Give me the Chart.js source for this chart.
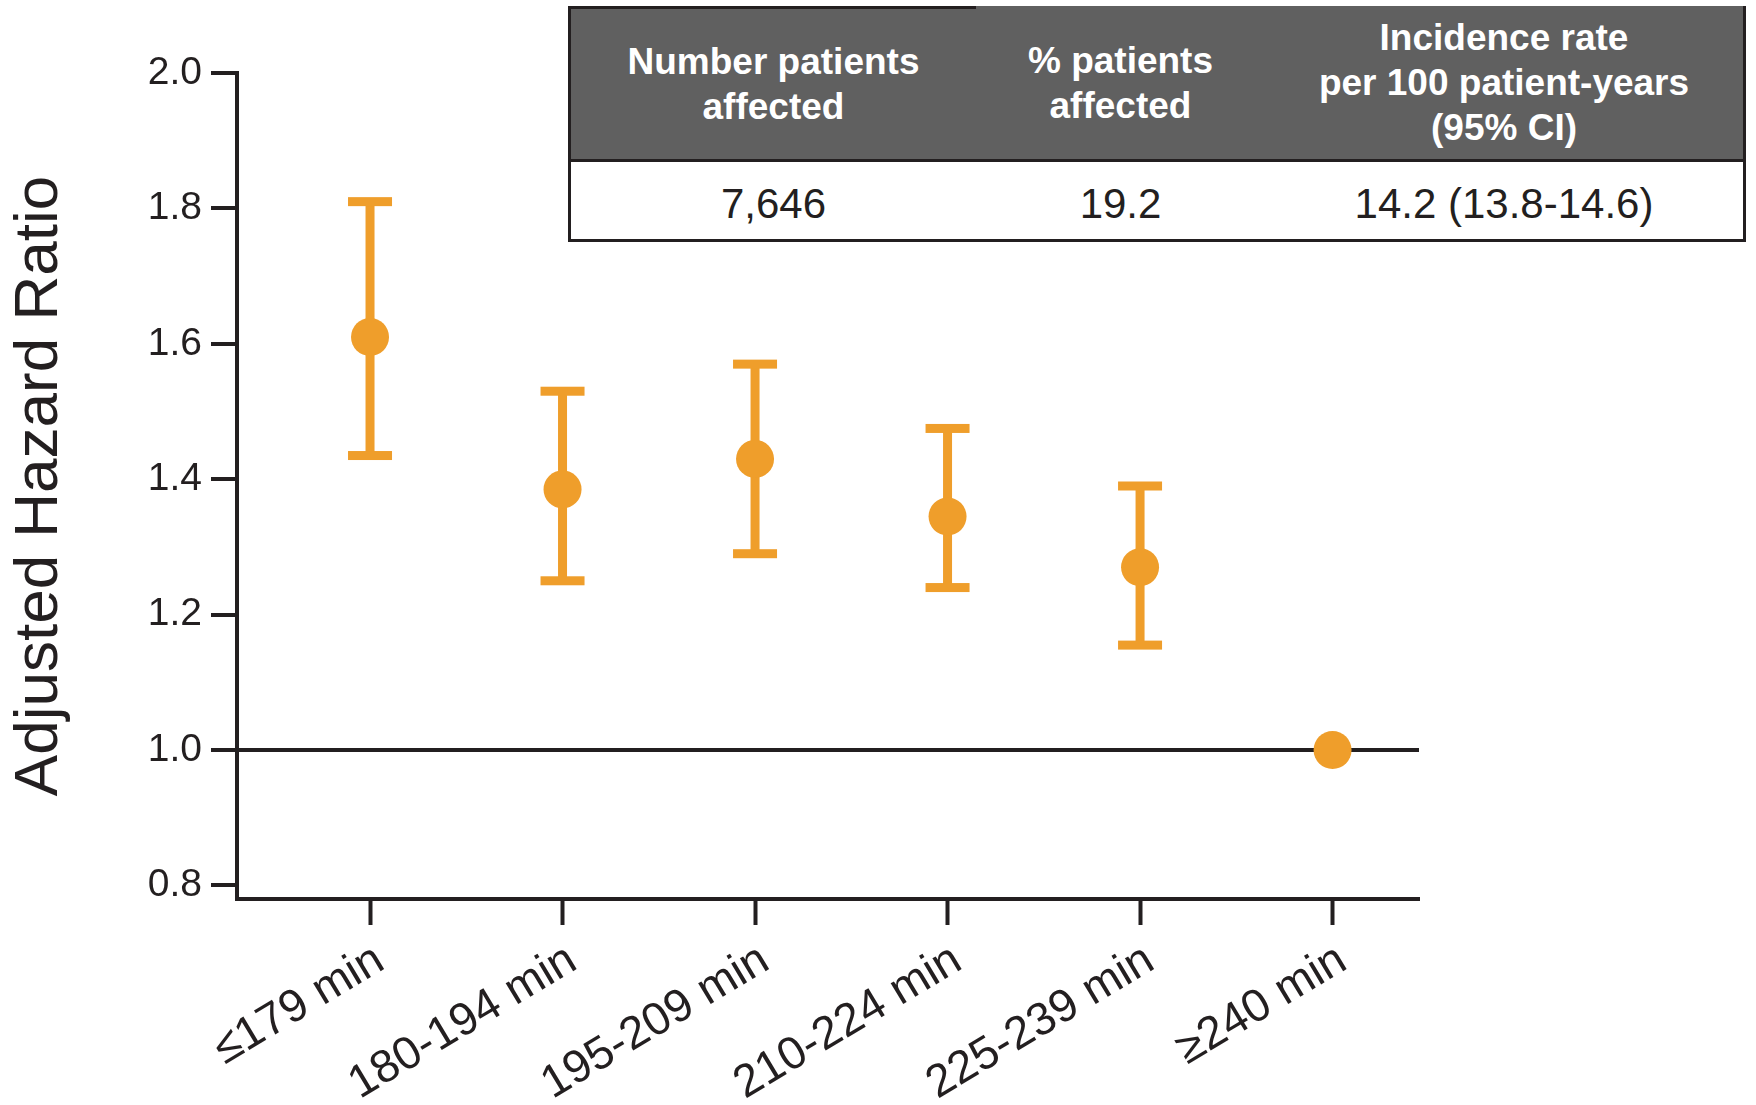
<!DOCTYPE html>
<html>
<head>
<meta charset="utf-8">
<script src="https://cdn.jsdelivr.net/npm/chart.js@4.4.1/dist/chart.umd.min.js"></script>
<style>
  html, body { margin: 0; padding: 0; background: #ffffff; }
  #wrap { position: relative; width: 1756px; height: 1105px; overflow: hidden; }
  #chart { position: absolute; left: 0; top: 0; }
  #tbl {
    position: absolute; left: 568px; top: 6px; width: 1178px; height: 236px;
    box-sizing: border-box; border-left: 3px solid #231f20; border-right: 3px solid #231f20;
    border-bottom: 3px solid #231f20; background: #fff;
    font-family: "Liberation Sans", Arial, sans-serif; color: #231f20;
  }
  #tbl .row { display: flex; width: 100%; }
  #tbl .hdr { height: 156px; background: #606060; border-bottom: 3px solid #231f20; box-sizing: border-box; }
  #tbl .hdr div { color: #ffffff; font-weight: bold; font-size: 37px; line-height: 45px;
    display: flex; align-items: center; justify-content: center; text-align: center; box-sizing: border-box; }
  #tbl .hdr div:first-child { border-top: 3px solid #231f20; }
  #tbl .dat { height: 77px; }
  #tbl .dat div { font-size: 42px; display: flex; align-items: center; justify-content: center; padding-top: 6px; box-sizing: border-box; }
</style>
</head>
<body>
<div id="wrap">
  <canvas id="chart" width="1756" height="1105"></canvas>
  <div id="tbl"></div>
</div>
<script>
// ---- data ----
const categories = ["\u2264179 min", "180-194 min", "195-209 min", "210-224 min", "225-239 min", "\u2265240 min"];
const hazardRatio = [1.61, 1.385, 1.43, 1.345, 1.27, 1.0];
const ciLower = [1.435, 1.25, 1.29, 1.24, 1.155, null];
const ciUpper = [1.81, 1.53, 1.57, 1.475, 1.39, null];
const yTicks = [0.8, 1.0, 1.2, 1.4, 1.6, 1.8, 2.0];
const referenceValue = 1.0;
const yTitle = "Adjusted Hazard Ratio";
const tableHeaders = [["Number patients", "affected"], ["% patients", "affected"], ["Incidence rate", "per 100 patient-years", "(95% CI)"]];
const tableValues = ["7,646", "19.2", "14.2 (13.8-14.6)"];

// ---- table ----
const colWidths = [405, 289, 478];
const tbl = document.getElementById('tbl');
const hdr = document.createElement('div'); hdr.className = 'row hdr';
const dat = document.createElement('div'); dat.className = 'row dat';
tableHeaders.forEach((lines, i) => {
  const c = document.createElement('div');
  c.style.width = colWidths[i] + 'px';
  c.innerHTML = lines.join('<br>');
  hdr.appendChild(c);
  const d = document.createElement('div');
  d.style.width = colWidths[i] + 'px';
  d.textContent = tableValues[i];
  dat.appendChild(d);
});
tbl.appendChild(hdr); tbl.appendChild(dat);

// ---- chart ----
const ORANGE = '#EF9E2B';
const INK = '#231f20';
const FONT = '"Liberation Sans", Arial, sans-serif';

const errorBars = {
  id: 'errorBars',
  beforeDatasetsDraw(chart) {
    const xs = chart.scales.x, ys = chart.scales.y, ctx = chart.ctx;
    ctx.save();
    ctx.fillStyle = ORANGE;
    hazardRatio.forEach((v, i) => {
      if (ciLower[i] == null || ciUpper[i] == null) return;
      const x = xs.getPixelForValue(i);
      const yl = ys.getPixelForValue(ciLower[i]);
      const yh = ys.getPixelForValue(ciUpper[i]);
      const lw = 9, cw = 44;
      ctx.fillRect(x - lw / 2, yh, lw, yl - yh);
      ctx.fillRect(x - cw / 2, yh - lw / 2, cw, lw);
      ctx.fillRect(x - cw / 2, yl - lw / 2, cw, lw);
    });
    ctx.restore();
  }
};

new Chart(document.getElementById('chart'), {
  type: 'scatter',
  data: {
    datasets: [{
      data: hazardRatio.map((v, i) => ({ x: i, y: v })),
      backgroundColor: ORANGE,
      borderWidth: 0,
      pointRadius: 19,
      pointHoverRadius: 19
    }]
  },
  options: {
    responsive: false,
    animation: false,
    events: [],
    layout: { padding: { top: 73, right: 337, bottom: 0, left: 0 } },
    plugins: { legend: { display: false }, tooltip: { enabled: false } },
    scales: {
      x: {
        type: 'linear',
        min: -0.691, max: 5.449,
        afterBuildTicks: (s) => { s.ticks = categories.map((c, i) => ({ value: i })); },
        afterFit: (s) => { s.height = 206; },
        border: { color: INK, width: 4 },
        grid: { drawOnChartArea: false, color: INK, tickColor: INK, tickLength: 26, tickWidth: 4 },
        ticks: {
          autoSkip: false, minRotation: 31, maxRotation: 31,
          color: INK, font: { family: FONT, size: 46 }, padding: 8, labelOffset: 10,
          callback: (v) => categories[v]
        }
      },
      y: {
        min: 0.78, max: 2.0,
        afterBuildTicks: (s) => { s.ticks = yTicks.map(v => ({ value: v })); },
        afterFit: (s) => { s.width = 237; },
        border: { color: INK, width: 4 },
        grid: {
          drawOnChartArea: true,
          color: (c) => (c.tick && Math.abs(c.tick.value - referenceValue) < 1e-9) ? INK : 'rgba(0,0,0,0)',
          lineWidth: 4, tickColor: INK, tickLength: 26, tickWidth: 4
        },
        ticks: {
          color: INK, font: { family: FONT, size: 39 }, padding: 9,
          callback: (v) => Number(v).toFixed(1)
        },
        title: {
          display: true, text: yTitle, color: INK,
          font: { family: FONT, size: 62 }, padding: { top: 3, bottom: 0 }
        }
      }
    }
  },
  plugins: [errorBars]
});
</script>
</body>
</html>
